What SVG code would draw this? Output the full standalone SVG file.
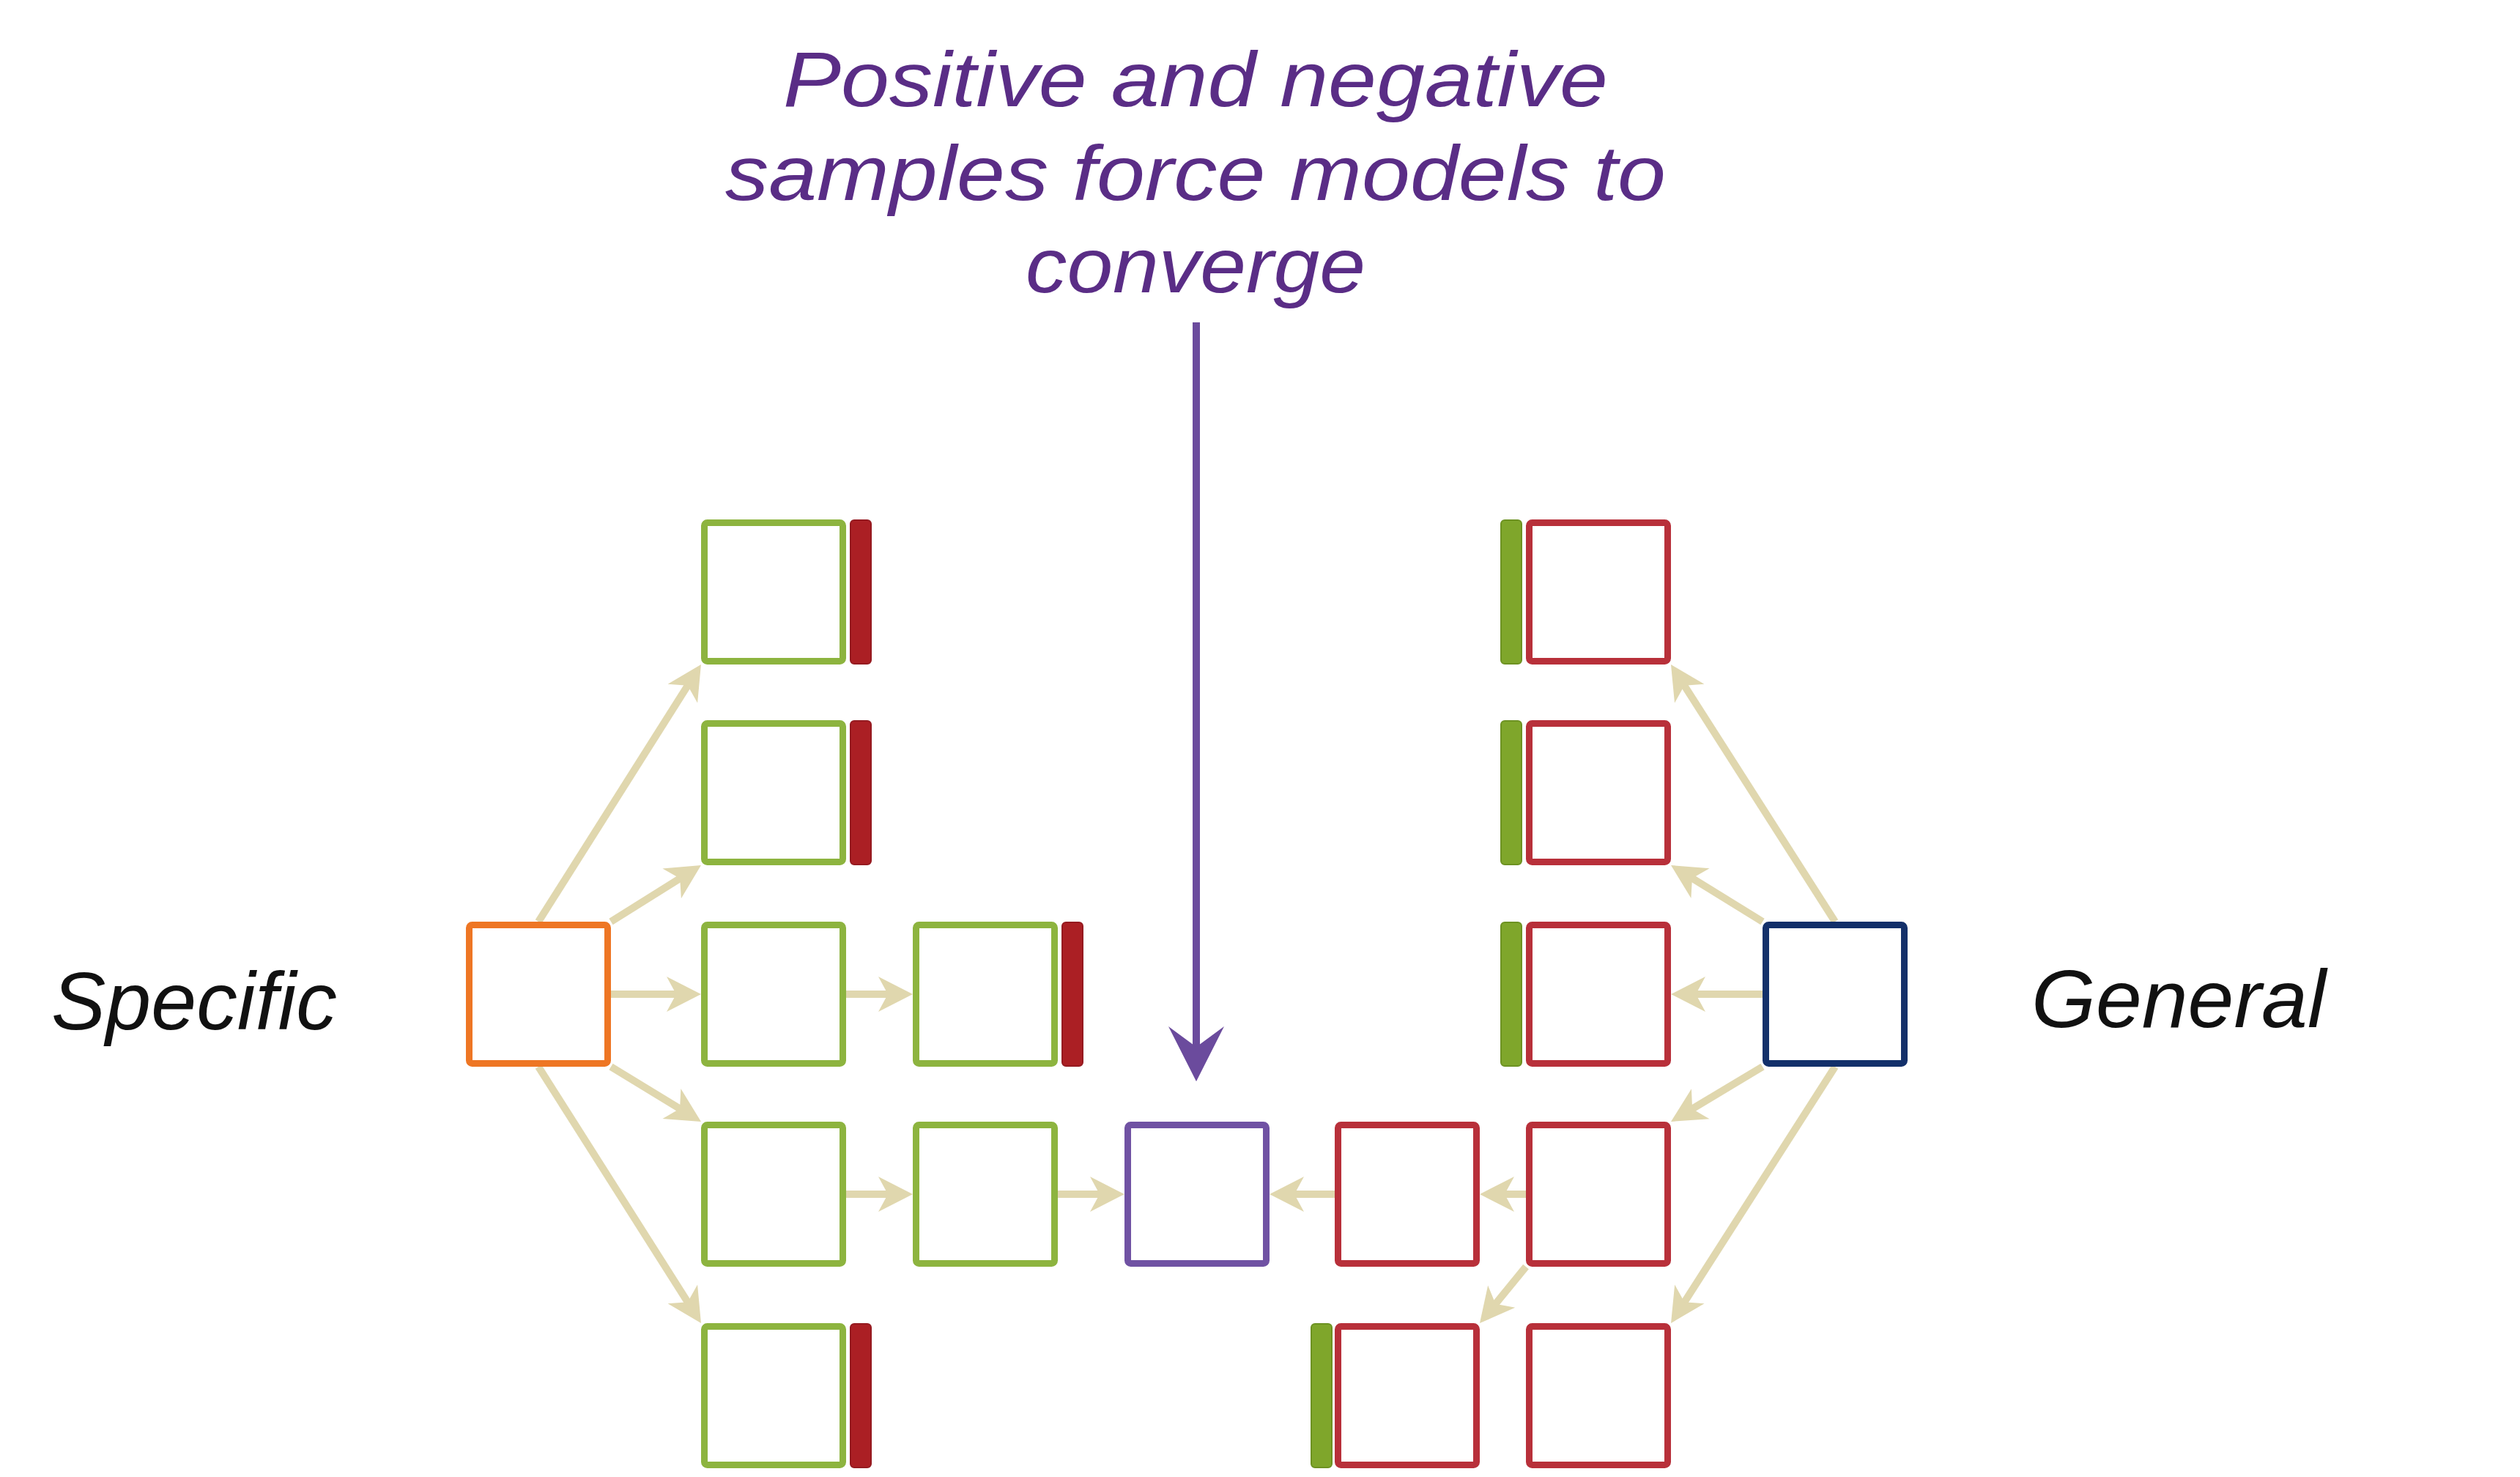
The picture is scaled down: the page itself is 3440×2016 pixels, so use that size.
<svg xmlns="http://www.w3.org/2000/svg" width="3440" height="2016" viewBox="0 0 3440 2016">
<style>
.box{fill:#ffffff;stroke-width:9}
.g{stroke:#8db43f}
.r{stroke:#b8303a}
.o{stroke:#ee7624}
.p{stroke:#7052a3}
.n{stroke:#13306a}
.rbar{fill:#ab1f24;stroke:#951a20;stroke-width:2}
.gbar{fill:#7fa62b;stroke:#6d9222;stroke-width:2}
.conn{stroke:#e0d7ae;stroke-width:10;fill:none;marker-end:url(#tan)}
.lbl{font-family:"Liberation Sans",Arial,sans-serif;font-style:italic;fill:#111111}
.title{font-family:"Liberation Sans",Arial,sans-serif;font-style:italic;fill:#5a2d86;font-size:106px;text-anchor:middle}
</style>
<defs>
<marker id="tan" markerUnits="userSpaceOnUse" viewBox="-30 -30 60 60" markerWidth="60" markerHeight="60" refX="0" refY="0" orient="auto">
<path d="M25,0 L-22,-24 L-9,0 L-22,24 Z" fill="#e0d7ae"/>
</marker>
<marker id="pur" markerUnits="userSpaceOnUse" viewBox="-60 -45 100 90" markerWidth="100" markerHeight="90" refX="0" refY="0" orient="auto">
<path d="M25,0 L-50,-38 L-22,0 L-50,38 Z" fill="#6b4b9d"/>
</marker>
</defs>
<rect x="0" y="0" width="3440" height="2016" fill="#ffffff"/>

<g id="title">
<text class="title" x="1632" y="145" textLength="1126" lengthAdjust="spacingAndGlyphs">Positive and negative</text>
<text class="title" x="1632" y="273" textLength="1284" lengthAdjust="spacingAndGlyphs">samples force models to</text>
<text class="title" x="1632" y="399" textLength="464" lengthAdjust="spacingAndGlyphs">converge</text>
</g>

<g id="label-specific"><text class="lbl" x="70" y="1405" font-size="112" textLength="390" lengthAdjust="spacingAndGlyphs">Specific</text></g>
<g id="label-general"><text class="lbl" x="2773" y="1402" font-size="112" textLength="402" lengthAdjust="spacingAndGlyphs">General</text></g>

<g id="connectors">
<line class="conn" x1="735" y1="1258" x2="943.6" y2="928.1"/>
<line class="conn" x1="834" y1="1258" x2="935.8" y2="1194.3"/>
<line class="conn" x1="834" y1="1357" x2="932" y2="1357"/>
<line class="conn" x1="834" y1="1456" x2="935.7" y2="1518"/>
<line class="conn" x1="735" y1="1456" x2="943.6" y2="1784.9"/>
<line class="conn" x1="1155" y1="1357" x2="1221" y2="1357"/>
<line class="conn" x1="1155" y1="1630" x2="1221" y2="1630"/>
<line class="conn" x1="1444" y1="1630" x2="1510" y2="1630"/>
<line class="conn" x1="1822" y1="1630" x2="1758" y2="1630"/>
<line class="conn" x1="2083" y1="1630" x2="2045" y2="1630"/>
<line class="conn" x1="2083" y1="1729" x2="2035.8" y2="1786.7"/>
<line class="conn" x1="2505" y1="1258" x2="2294.4" y2="928.1"/>
<line class="conn" x1="2406" y1="1258" x2="2302.3" y2="1194.1"/>
<line class="conn" x1="2406" y1="1357" x2="2306" y2="1357"/>
<line class="conn" x1="2406" y1="1456" x2="2302.4" y2="1518.1"/>
<line class="conn" x1="2505" y1="1456" x2="2294.5" y2="1784.9"/>
<line x1="1633" y1="440" x2="1633" y2="1451" stroke="#6b4b9d" stroke-width="10" marker-end="url(#pur)"/>
</g>

<g id="specific-node"><rect class="box o" x="640.5" y="1262.5" width="189" height="189" rx="4"/></g>

<g id="s1"><rect class="box g" x="961.5" y="713.5" width="189" height="189" rx="4"/><rect class="rbar" x="1161" y="710" width="28" height="196" rx="5"/></g>
<g id="s2"><rect class="box g" x="961.5" y="987.5" width="189" height="189" rx="4"/><rect class="rbar" x="1161" y="984" width="28" height="196" rx="5"/></g>
<g id="s3"><rect class="box g" x="961.5" y="1262.5" width="189" height="189" rx="4"/></g>
<g id="s4"><rect class="box g" x="961.5" y="1535.5" width="189" height="189" rx="4"/></g>
<g id="s5"><rect class="box g" x="961.5" y="1810.5" width="189" height="189" rx="4"/><rect class="rbar" x="1161" y="1807" width="28" height="196" rx="5"/></g>
<g id="s3b"><rect class="box g" x="1250.5" y="1262.5" width="189" height="189" rx="4"/><rect class="rbar" x="1450" y="1259" width="28" height="196" rx="5"/></g>
<g id="s4b"><rect class="box g" x="1250.5" y="1535.5" width="189" height="189" rx="4"/></g>

<g id="converged"><rect class="box p" x="1539.5" y="1535.5" width="189" height="189" rx="4"/></g>

<g id="g4b"><rect class="box r" x="1826.5" y="1535.5" width="189" height="189" rx="4"/></g>
<g id="g5b"><rect class="box r" x="1826.5" y="1810.5" width="189" height="189" rx="4"/><rect class="gbar" x="1790" y="1807" width="28" height="196" rx="5"/></g>
<g id="g1"><rect class="box r" x="2087.5" y="713.5" width="189" height="189" rx="4"/><rect class="gbar" x="2049" y="710" width="28" height="196" rx="5"/></g>
<g id="g2"><rect class="box r" x="2087.5" y="987.5" width="189" height="189" rx="4"/><rect class="gbar" x="2049" y="984" width="28" height="196" rx="5"/></g>
<g id="g3"><rect class="box r" x="2087.5" y="1262.5" width="189" height="189" rx="4"/><rect class="gbar" x="2049" y="1259" width="28" height="196" rx="5"/></g>
<g id="g4"><rect class="box r" x="2087.5" y="1535.5" width="189" height="189" rx="4"/></g>
<g id="g5"><rect class="box r" x="2087.5" y="1810.5" width="189" height="189" rx="4"/></g>

<g id="general-node"><rect class="box n" x="2410.5" y="1262.5" width="189" height="189" rx="4"/></g>
</svg>
